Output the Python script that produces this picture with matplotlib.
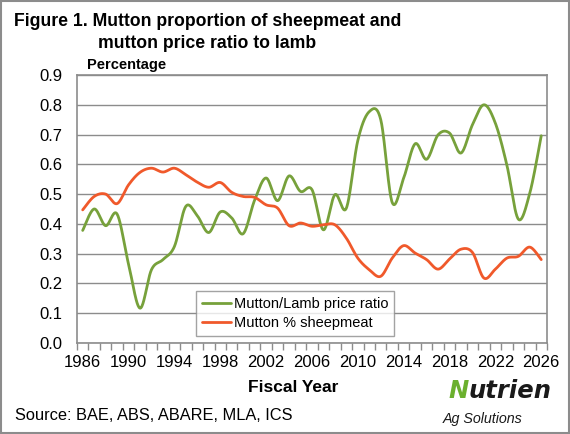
import numpy as np
import matplotlib
matplotlib.use('Agg')
import matplotlib.pyplot as plt
from matplotlib.patches import Rectangle

plt.rcParams['font.family'] = ['Liberation Sans', 'DejaVu Sans']

# Data (fiscal years 1986-2026)
years = list(range(1986, 2027))
price_ratio = [0.378, 0.45, 0.394, 0.433, 0.265, 0.117, 0.246, 0.28, 0.324, 0.459,
               0.427, 0.371, 0.44, 0.42, 0.367, 0.48, 0.554, 0.478, 0.561, 0.509,
               0.515, 0.38, 0.498, 0.453, 0.68, 0.777, 0.75, 0.472, 0.554, 0.669,
               0.617, 0.699, 0.705, 0.638, 0.733, 0.80, 0.738, 0.598, 0.416, 0.503,
               0.696]
mutton_share = [0.447, 0.492, 0.50, 0.468, 0.531, 0.573, 0.587, 0.574, 0.587, 0.565,
                0.54, 0.523, 0.539, 0.506, 0.492, 0.489, 0.464, 0.453, 0.394, 0.403,
                0.392, 0.397, 0.397, 0.352, 0.285, 0.246, 0.224, 0.285, 0.327, 0.302,
                0.28, 0.248, 0.282, 0.315, 0.304, 0.218, 0.248, 0.285, 0.291, 0.322,
                0.28]
series_names = ['Mutton/Lamb price ratio', 'Mutton % sheepmeat']
series_colors = ['#77A13B', '#F0592B']
yticks = [0.0, 0.1, 0.2, 0.3, 0.4, 0.5, 0.6, 0.7, 0.8, 0.9]


def smooth(x, y, n=24):
    # bezier curve through the points, like Excel's "smoothed line"
    x = np.asarray(x, float)
    y = np.asarray(y, float)
    px = np.concatenate([[x[0]], x, [x[-1]]])
    py = np.concatenate([[y[0]], y, [y[-1]]])
    xs, ys = [], []
    t = np.linspace(0, 1, n, endpoint=False)
    for i in range(1, len(px) - 2):
        p0, p1, p2, p3 = px[i - 1:i + 3]
        q0, q1, q2, q3 = py[i - 1:i + 3]
        c1x, c1y = p1 + (p2 - p0) / 6, q1 + (q2 - q0) / 6
        c2x, c2y = p2 - (p3 - p1) / 6, q2 - (q3 - q1) / 6
        b0 = (1 - t) ** 3
        b1 = 3 * (1 - t) ** 2 * t
        b2 = 3 * (1 - t) * t ** 2
        b3 = t ** 3
        xs.append(b0 * p1 + b1 * c1x + b2 * c2x + b3 * p2)
        ys.append(b0 * q1 + b1 * c1y + b2 * c2y + b3 * q2)
    xs.append([x[-1]])
    ys.append([y[-1]])
    return np.concatenate(xs), np.concatenate(ys)


fig = plt.figure(figsize=(5.7, 4.34), dpi=100)
fig.patches.append(Rectangle((0.002, 0.002), 0.996, 0.996, transform=fig.transFigure,
                             fill=False, edgecolor='#8c8c8c', linewidth=1.5))

ax = fig.add_axes([0.135, 0.2097, 0.8246, 0.6175])
xpos = np.arange(len(years))

for vals, name, col in zip([price_ratio, mutton_share], series_names, series_colors):
    sx, sy = smooth(xpos, vals)
    ax.plot(sx, sy, color=col, linewidth=2.0, label=name, solid_capstyle='round')

ax.set_xlim(-0.5, len(years) - 0.5)
ax.set_ylim(0, 0.9)
ax.set_yticks(yticks)
ax.set_yticklabels([f'{v:.1f}' for v in yticks], fontsize=12)
ax.grid(axis='y', color='#8c8c8c', linewidth=1.0)
ax.set_axisbelow(True)

label_idx = xpos[::4]
ax.set_xticks(label_idx)
ax.set_xticklabels([str(years[i]) for i in label_idx], fontsize=12)
ax.set_xticks(np.arange(-0.5, len(years)), minor=True)
ax.tick_params(axis='x', which='major', length=0, pad=9)
ax.tick_params(axis='x', which='minor', length=5, color='#8c8c8c', width=1)
ax.tick_params(axis='y', length=0, pad=10.5)

for sp in ax.spines.values():
    sp.set_color('#8c8c8c')
    sp.set_linewidth(1.2)

leg = ax.legend(loc='lower left', bbox_to_anchor=(0.253, 0.026), fontsize=10.5,
                frameon=True, fancybox=False, borderpad=0.4, handlelength=2.0,
                handletextpad=0.2, labelspacing=0.35, borderaxespad=0)
leg.get_frame().set_edgecolor('#8c8c8c')
leg.get_frame().set_linewidth(1.0)

# Titles and annotations
fig.text(14 / 570, 1 - 22 / 434, 'Figure 1. Mutton proportion of sheepmeat and',
         fontsize=12.7, fontweight='bold', va='center', ha='left')
fig.text(98 / 570, 1 - 44 / 434, 'mutton price ratio to lamb',
         fontsize=12.7, fontweight='bold', va='center', ha='left')
fig.text(87 / 570, 1 - 65 / 434, 'Percentage', fontsize=10.5, fontweight='bold',
         va='center', ha='left')
fig.text(293 / 570, 1 - 388 / 434, 'Fiscal Year', fontsize=12.5, fontweight='bold',
         va='center', ha='center')
fig.text(15 / 570, 1 - 416 / 434, 'Source: BAE, ABS, ABARE, MLA, ICS', fontsize=11.8,
         va='center', ha='left')

# Nutrien logo as text: green N, dark rest placed right after it
logo_n = fig.text(448 / 570, 1 - 391 / 434, 'N', fontsize=17.5, fontweight='bold',
                  style='italic', family='DejaVu Sans', color='#6BB02E',
                  va='center', ha='left')
fig.canvas.draw()
n_box = logo_n.get_window_extent().transformed(fig.transFigure.inverted())
fig.text(n_box.x1 + 0.001, 1 - 391 / 434, 'utrien', fontsize=17.5, fontweight='bold',
         style='italic', family='DejaVu Sans', color='#1a1a1a', va='center', ha='left')
fig.text(443 / 570, 1 - 419 / 434, 'Ag Solutions', fontsize=10.3, style='italic',
         color='#1a1a1a', va='center', ha='left')

fig.savefig('out.png', dpi=100)
